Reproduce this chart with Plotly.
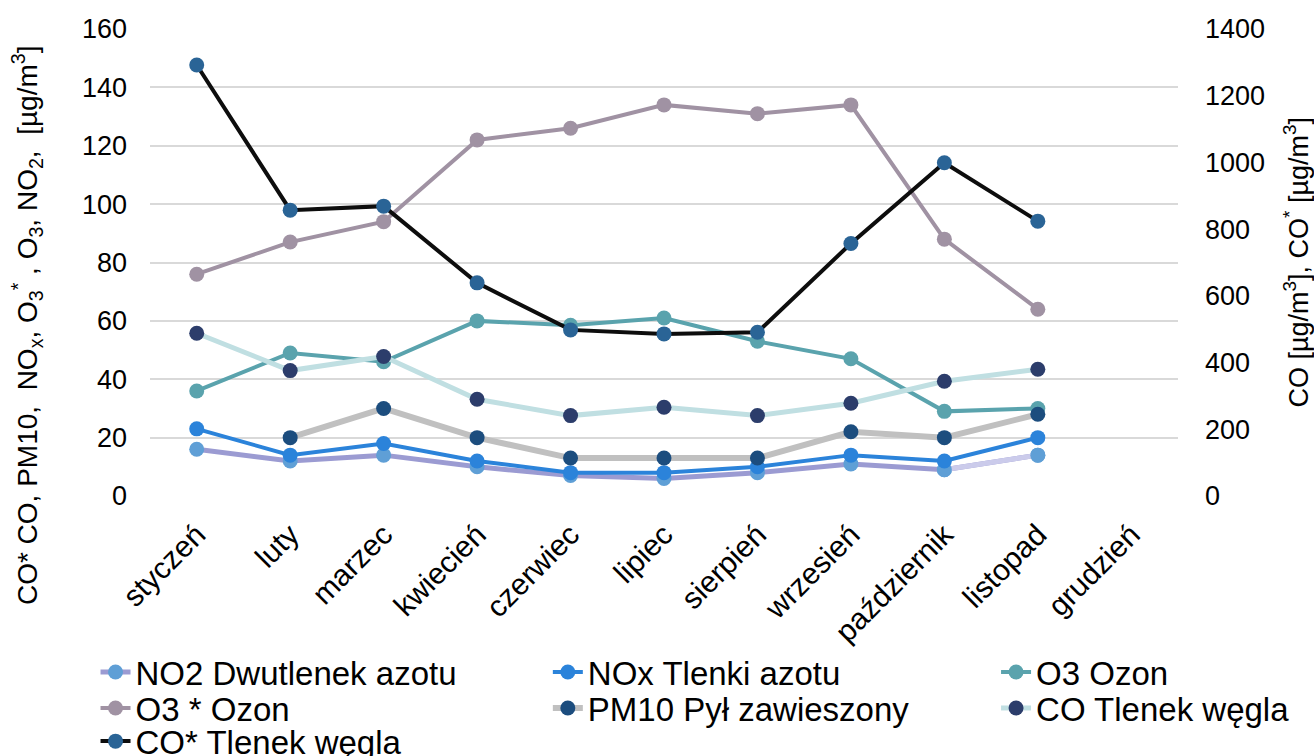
import plotly.graph_objects as go

# Monthly mean concentrations (µg/m3); maj has no measurements, grudzień not yet available
months = ["styczeń", "luty", "marzec", "kwiecień", "czerwiec", "lipiec",
          "sierpień", "wrzesień", "październik", "listopad", "grudzień"]

no2 = [16, 12, 14, 10, 7, 6, 8, 11, 9, 14, None]
nox = [23, 14, 18, 12, 8, 8, 10, 14, 12, 20, None]
o3 = [36, 49, 46, 60, 58.5, 61, 53, 47, 29, 30, None]
o3_star = [76, 87, 94, 122, 126, 134, 131, 134, 88, 64, None]
pm10 = [None, 20, 30, 20, 13, 13, 13, 22, 20, 28, None]
co = [488, 376, 418, 290, 241, 266, 241, 278, 344, 380, None]
co_star = [1292, 857, 869, 639, 498, 486, 491, 757, 999, 824, None]

FONT = "Liberation Sans, Arial, sans-serif"

# legend grid: three columns, three rows below the plot
LEG_COLS = [-0.053, 0.387, 0.823]
LEG_ROWS = [-0.377, -0.454, -0.525]

fig = go.Figure()
legend_layout = {}


def legend_slot(idx, col, row):
    key = "legend" if idx == 1 else f"legend{idx}"
    legend_layout[key] = dict(
        orientation="h", xanchor="left", yanchor="middle",
        x=LEG_COLS[col], y=LEG_ROWS[row],
        font=dict(family=FONT, size=33, color="#000000"),
        bgcolor="rgba(0,0,0,0)", itemwidth=30,
    )
    return key


def add_series(name, y, line_color, marker_color, width, yaxis="y",
               legend=None, x=None):
    fig.add_trace(go.Scatter(
        x=months if x is None else x, y=y, name=name, mode="lines+markers",
        yaxis=yaxis,
        line=dict(color=line_color, width=width),
        marker=dict(color=marker_color, size=15),
        legend=legend or "legend", showlegend=legend is not None,
        connectgaps=False,
    ))


add_series("NO2 Dwutlenek azotu", no2, "#9b9bd2", "#5f9fd6", 5,
           legend=legend_slot(1, 0, 0))
# last NO2 segment drawn in a paler shade
add_series("NO2 Dwutlenek azotu", no2[8:10], "#cbcbeb", "#5f9fd6", 5, x=months[8:10])
add_series("NOx Tlenki azotu", nox, "#2b83da", "#2b83da", 4,
           legend=legend_slot(2, 1, 0))
add_series("O3 Ozon", o3, "#5aa3ad", "#5aa3ad", 4,
           legend=legend_slot(3, 2, 0))
add_series("O3 * Ozon", o3_star, "#a092a3", "#a092a3", 4,
           legend=legend_slot(4, 0, 1))
add_series("PM10 Pył zawieszony", pm10, "#c0c0c0", "#1c4d7e", 6,
           legend=legend_slot(5, 1, 1))
add_series("CO Tlenek węgla", co, "#c0dfe2", "#2c3d6b", 5, yaxis="y2",
           legend=legend_slot(6, 2, 1))
add_series("CO* Tlenek węgla", co_star, "#0d0d0d", "#2a6496", 4, yaxis="y2",
           legend=legend_slot(7, 0, 2))

fig.update_layout(
    width=1314, height=756,
    margin=dict(l=150, r=136, t=29, b=260, autoexpand=False),
    paper_bgcolor="white", plot_bgcolor="white",
    font=dict(family=FONT, size=27, color="#000000"),
    showlegend=True,
    xaxis=dict(
        type="category", categoryorder="array", categoryarray=months,
        range=[-0.5, 10.5], tickangle=-45, showgrid=False, zeroline=False,
        showline=False, ticks="", ticklabelstandoff=14,
        tickfont=dict(family=FONT, size=30, color="#000000"),
    ),
    yaxis=dict(
        range=[0, 160], dtick=20, showgrid=True, gridcolor="#d9d9d9",
        gridwidth=1.6, zeroline=False, showline=False, ticks="",
        ticklabelstandoff=22,
        tickfont=dict(family=FONT, size=27, color="#000000"),
    ),
    yaxis2=dict(
        range=[0, 1400], dtick=200, overlaying="y", side="right",
        showgrid=False, zeroline=False, showline=False, ticks="",
        ticklabelstandoff=26,
        tickfont=dict(family=FONT, size=27, color="#000000"),
    ),
    annotations=[
        dict(
            text="CO* CO, PM10,  NO<sub>x</sub>, O<sub>3</sub><sup>*</sup> , O<sub>3</sub>, "
                 "NO<sub>2</sub>,  [µg/m<sup>3</sup>]",
            xref="paper", yref="paper", x=0, y=0.366, xshift=-123,
            textangle=-90, showarrow=False, xanchor="center", yanchor="middle",
            font=dict(family=FONT, size=28, color="#000000"),
        ),
        dict(
            text="CO [µg/m<sup>3</sup>], CO<sup>*</sup> [µg/m<sup>3</sup>]",
            xref="paper", yref="paper", x=1, y=0.5, xshift=118,
            textangle=-90, showarrow=False, xanchor="center", yanchor="middle",
            font=dict(family=FONT, size=27, color="#000000"),
        ),
    ],
    **legend_layout,
)

fig.write_html("out.html")
